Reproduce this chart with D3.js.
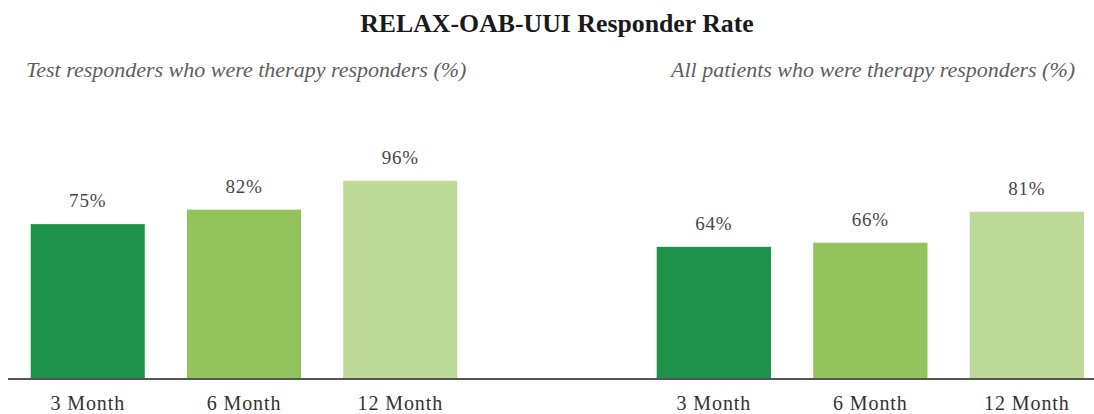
<!DOCTYPE html>
<html>
<head>
<meta charset="utf-8">
<script src="https://cdn.jsdelivr.net/npm/d3@7"></script>
<style>
  html, body { margin: 0; padding: 0; background: #ffffff; }
  svg { display: block; }
</style>
</head>
<body>
<div id="chart"></div>
<script>
// ---- data ----
const title = "RELAX-OAB-UUI Responder Rate";
const categories = ["3 Month", "6 Month", "12 Month"];
const panelTitles = [
  "Test responders who were therapy responders (%)",
  "All patients who were therapy responders (%)"
];
const testResponderValues = [75, 82, 96];
const allPatientValues = [64, 66, 81];
const barColors = ["#1e914a", "#93c35b", "#bdd997"];

// ---- layout ----
const W = 1094, H = 414;
const baseY = 379;
const serif = "'Liberation Serif', 'Times New Roman', Times, serif";
const svg = d3.select("#chart").append("svg")
  .attr("width", W).attr("height", H);

const y = d3.scaleLinear().domain([0, 100]).range([baseY, baseY - 206.5]);

const panels = [
  { values: testResponderValues, range: [30.7, 457.3], titleX: 26, label: panelTitles[0] },
  { values: allPatientValues, range: [656.7, 1084], titleX: 671, label: panelTitles[1] }
];

svg.append("text")
  .attr("x", 557).attr("y", 32)
  .attr("text-anchor", "middle")
  .style("font-family", serif)
  .style("font-weight", "bold")
  .style("font-size", "25.8px")
  .attr("fill", "#1a1a1a")
  .text(title);

panels.forEach(p => {
  const x = d3.scaleBand().domain(categories).range(p.range)
    .paddingInner(0.27).paddingOuter(0);

  const data = categories.map((c, i) => ({ c, v: p.values[i], color: barColors[i] }));

  svg.append("text")
    .attr("x", p.titleX).attr("y", 77)
    .style("font-family", serif)
    .style("font-style", "italic")
    .style("font-size", "22px")
    .attr("fill", "#5e5e5e")
    .text(p.label);

  svg.append("g").selectAll("rect").data(data).join("rect")
    .attr("x", d => x(d.c))
    .attr("y", d => y(d.v))
    .attr("width", x.bandwidth())
    .attr("height", d => baseY - y(d.v))
    .attr("fill", d => d.color);

  svg.append("g").selectAll("text").data(data).join("text")
    .attr("x", d => x(d.c) + x.bandwidth() / 2)
    .attr("y", d => y(d.v) - 17)
    .attr("text-anchor", "middle")
    .style("font-family", serif)
    .style("font-size", "19px")
    .style("letter-spacing", "0.8px")
    .attr("fill", "#474747")
    .text(d => d.v + "%");

  const axis = d3.axisBottom(x).tickSize(0).tickPadding(0);
  const g = svg.append("g").attr("transform", `translate(0,${baseY})`).call(axis);
  g.select(".domain").remove();
  g.selectAll("text")
    .attr("y", 31)
    .attr("dy", 0)
    .style("font-family", serif)
    .style("font-size", "20px")
    .style("letter-spacing", "0.9px")
    .attr("fill", "#333");
});

svg.append("line")
  .attr("x1", 8).attr("x2", W)
  .attr("y1", baseY).attr("y2", baseY)
  .attr("stroke", "#555").attr("stroke-width", 2);
</script>
</body>
</html>
